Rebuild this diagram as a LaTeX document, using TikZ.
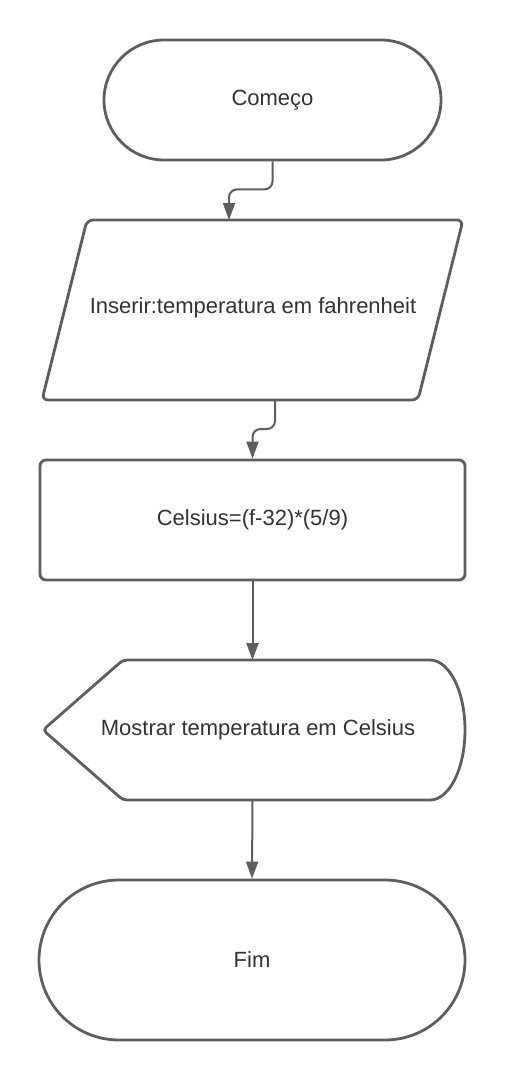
\documentclass[tikz,border=0pt]{standalone}
\usepackage{fontspec}
\setmainfont{Liberation Sans}
\usetikzlibrary{shapes.misc,arrows.meta}
\definecolor{lineg}{HTML}{5E5E5E}
\definecolor{textg}{HTML}{333333}
\tikzset{
  shapeline/.style={draw=lineg,line width=2.8pt,fill=white},
  label22/.style={text=textg,font=\fontsize{22}{26}\selectfont,inner sep=0pt},
  terminal/.style={shapeline,label22,rounded rectangle,rounded rectangle arc length=180},
  procbox/.style={shapeline,label22,rectangle,rounded corners=6pt},
  conn/.style={draw=lineg,line width=2pt,rounded corners=8pt,-{Triangle[width=12pt,length=17pt]}},
  connplain/.style={draw=lineg,line width=2pt}
}
\begin{document}
\begin{tikzpicture}[x=1pt,y=-1pt]
\useasboundingbox[fill=white] (0,0) rectangle (505,1080);

% Start
\node[terminal,minimum width=337pt,minimum height=120pt] (start) at (272.5,100) {Começo};

% Input (parallelogram)
\draw[shapeline,rounded corners=6pt] (87,220) -- (463,220) -- (418,400) -- (42,400) -- cycle;
\node[label22] (inp) at (253,308) {Inserir:temperatura em fahrenheit};
\coordinate (inTop) at (229,220);
\coordinate (inBot) at (275,400);

% Process
\node[procbox,minimum width=425pt,minimum height=120pt] (proc) at (252.5,520) {Celsius=(f-32)*(5/9)};

% Display
\draw[shapeline,rounded corners=4pt] (430,800) -- (123,800) -- (43,730) -- (123,660) -- (430,660);
\draw[shapeline] (430,660) .. controls (449.3,660) and (465,691.3) .. (465,730)
                           .. controls (465,768.7) and (449.3,800) .. (430,800);
\node[label22] (disp) at (258,730) {Mostrar temperatura em Celsius};
\coordinate (dispTop) at (252.5,660);
\coordinate (dispBot) at (252.5,800);

% End
\node[terminal,minimum width=426pt,minimum height=160pt] (fim) at (252,960) {Fim};

% Connectors
\draw[conn] (start.south) -- ++(0,28) -| (inTop);
\draw[conn] (inBot) -- ++(0,29) -| (proc.north);
\draw[conn] (proc.south) -- (dispTop);
\draw[conn] (dispBot) -- (fim.north);
\end{tikzpicture}
\end{document}
